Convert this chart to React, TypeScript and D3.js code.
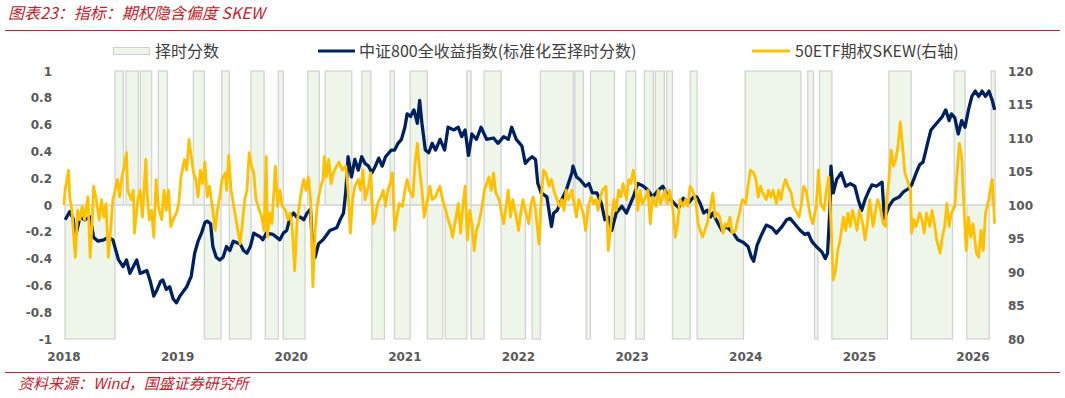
import React from 'react';
import * as d3 from 'd3';

const W = 1065;
const H = 398;

const yearTicks = [2018, 2019, 2020, 2021, 2022, 2023, 2024, 2025, 2026];
const leftTicks = [-1, -0.8, -0.6, -0.4, -0.2, 0, 0.2, 0.4, 0.6, 0.8, 1];
const rightTicks = [80, 85, 90, 95, 100, 105, 110, 115, 120];

const titleText = '图表23：指标：期权隐含偏度 SKEW';
const sourceText = '资料来源：Wind，国盛证券研究所';
const legendLabels = ['择时分数', '中证800全收益指数(标准化至择时分数)', '50ETF期权SKEW(右轴)'];

// timing score segments: [start (decimal year), end, score]
const timingSegments: [number, number, number][] = [
  [2018.009, 2018.449, -1], [2018.449, 2018.522, 1], [2018.546, 2018.654, 1], [2018.672, 2018.772, 1],
  [2018.830, 2018.909, 1], [2019.138, 2019.235, 1], [2019.235, 2019.382, -1], [2019.388, 2019.455, 1],
  [2019.455, 2019.646, -1], [2019.646, 2019.761, 1], [2019.772, 2019.886, -1], [2019.886, 2019.930, 1],
  [2019.930, 2020.121, -1], [2020.145, 2020.247, 1], [2020.298, 2020.533, 1], [2020.621, 2020.700, 1],
  [2020.709, 2020.820, -1], [2020.870, 2020.908, 1], [2020.908, 2021.046, -1], [2021.046, 2021.198, 1],
  [2021.198, 2021.334, -1], [2021.356, 2021.545, -1], [2021.545, 2021.583, 1], [2021.583, 2021.697, -1],
  [2021.697, 2021.847, 1], [2021.847, 2022.061, -1], [2022.120, 2022.193, -1], [2022.193, 2022.483, 1],
  [2022.498, 2022.571, 1], [2022.595, 2022.633, -1], [2022.633, 2022.844, 1], [2022.844, 2022.938, -1],
  [2022.947, 2023.032, 1], [2023.032, 2023.108, -1], [2023.108, 2023.187, 1], [2023.205, 2023.284, 1],
  [2023.305, 2023.355, 1], [2023.355, 2023.511, -1], [2023.511, 2023.572, 1], [2023.572, 2023.980, -1],
  [2023.995, 2024.485, 1], [2024.546, 2024.596, 1], [2024.605, 2024.635, -1], [2024.649, 2024.758, 1],
  [2024.758, 2025.247, -1], [2025.259, 2025.456, 1], [2025.456, 2025.820, -1], [2025.835, 2025.931, 1],
  [2025.946, 2026.143, -1], [2026.160, 2026.195, 1],
];

// CSI 800 total return index, standardised to timing score: [decimal year, value]
const csi800Norm: [number, number][] = [
  [2018.01, -0.11], [2018.05, -0.05], [2018.08, -0.10], [2018.10, -0.24], [2018.14, -0.09], [2018.18, -0.11],
  [2018.23, -0.09], [2018.26, -0.24], [2018.30, -0.27], [2018.35, -0.26], [2018.39, -0.24], [2018.43, -0.26],
  [2018.48, -0.41], [2018.52, -0.46], [2018.55, -0.41], [2018.58, -0.51], [2018.64, -0.41], [2018.67, -0.51],
  [2018.73, -0.49], [2018.76, -0.57], [2018.79, -0.68], [2018.82, -0.63], [2018.85, -0.57], [2018.87, -0.56],
  [2018.90, -0.63], [2018.93, -0.61], [2018.96, -0.70], [2018.99, -0.73], [2019.02, -0.68], [2019.08, -0.61],
  [2019.12, -0.53], [2019.15, -0.36], [2019.18, -0.27], [2019.21, -0.21], [2019.24, -0.13], [2019.26, -0.12],
  [2019.29, -0.14], [2019.31, -0.31], [2019.34, -0.39], [2019.37, -0.41], [2019.40, -0.39], [2019.43, -0.31],
  [2019.46, -0.34], [2019.49, -0.27], [2019.55, -0.29], [2019.58, -0.34], [2019.61, -0.36], [2019.64, -0.31],
  [2019.67, -0.21], [2019.73, -0.24], [2019.75, -0.26], [2019.78, -0.21], [2019.84, -0.22], [2019.90, -0.26],
  [2019.93, -0.21], [2019.96, -0.19], [2019.99, -0.09], [2020.02, -0.06], [2020.05, -0.09], [2020.08, -0.09],
  [2020.11, -0.11], [2020.14, -0.06], [2020.17, -0.03], [2020.18, -0.21], [2020.21, -0.39], [2020.24, -0.29],
  [2020.28, -0.26], [2020.34, -0.19], [2020.40, -0.17], [2020.43, -0.11], [2020.46, -0.06], [2020.48, 0.10],
  [2020.50, 0.36], [2020.53, 0.21], [2020.56, 0.34], [2020.59, 0.26], [2020.62, 0.36], [2020.65, 0.31],
  [2020.68, 0.29], [2020.71, 0.24], [2020.74, 0.29], [2020.77, 0.35], [2020.80, 0.29], [2020.83, 0.36],
  [2020.86, 0.39], [2020.88, 0.41], [2020.91, 0.41], [2020.94, 0.46], [2020.97, 0.49], [2021.00, 0.58],
  [2021.02, 0.68], [2021.05, 0.66], [2021.08, 0.71], [2021.11, 0.61], [2021.13, 0.78], [2021.15, 0.61],
  [2021.18, 0.41], [2021.21, 0.39], [2021.24, 0.46], [2021.27, 0.41], [2021.31, 0.49], [2021.35, 0.41],
  [2021.38, 0.58], [2021.43, 0.56], [2021.47, 0.58], [2021.50, 0.51], [2021.53, 0.56], [2021.56, 0.37],
  [2021.59, 0.53], [2021.63, 0.49], [2021.67, 0.58], [2021.72, 0.49], [2021.78, 0.50], [2021.82, 0.46],
  [2021.87, 0.51], [2021.91, 0.49], [2021.94, 0.58], [2021.98, 0.49], [2022.03, 0.44], [2022.06, 0.31],
  [2022.09, 0.34], [2022.12, 0.36], [2022.15, 0.34], [2022.17, 0.16], [2022.20, 0.09], [2022.25, 0.06],
  [2022.29, -0.16], [2022.31, -0.06], [2022.34, -0.04], [2022.38, 0.04], [2022.42, 0.11], [2022.47, 0.24],
  [2022.48, 0.29], [2022.51, 0.21], [2022.54, 0.19], [2022.59, 0.14], [2022.62, 0.16], [2022.65, 0.09],
  [2022.69, 0.09], [2022.73, 0.01], [2022.76, -0.11], [2022.79, -0.09], [2022.82, -0.19], [2022.86, -0.06],
  [2022.91, -0.01], [2022.95, -0.06], [2023.01, 0.06], [2023.05, 0.16], [2023.10, 0.14], [2023.14, 0.11],
  [2023.18, 0.06], [2023.23, 0.11], [2023.27, 0.14], [2023.32, 0.06], [2023.36, 0.02], [2023.41, -0.02],
  [2023.45, 0.05], [2023.50, 0.02], [2023.54, 0.06], [2023.57, 0.06], [2023.60, 0.01], [2023.63, -0.06],
  [2023.66, -0.04], [2023.69, -0.09], [2023.71, -0.06], [2023.74, -0.11], [2023.79, -0.19], [2023.83, -0.16],
  [2023.89, -0.21], [2023.93, -0.26], [2023.98, -0.28], [2024.02, -0.31], [2024.05, -0.39], [2024.07, -0.42],
  [2024.10, -0.30], [2024.14, -0.22], [2024.18, -0.15], [2024.23, -0.17], [2024.27, -0.21], [2024.32, -0.16],
  [2024.36, -0.11], [2024.39, -0.10], [2024.43, -0.14], [2024.48, -0.19], [2024.52, -0.22], [2024.55, -0.21],
  [2024.58, -0.27], [2024.62, -0.31], [2024.67, -0.35], [2024.70, -0.40], [2024.72, -0.36], [2024.74, -0.04],
  [2024.75, 0.29], [2024.77, 0.09], [2024.80, 0.19], [2024.84, 0.24], [2024.88, 0.14], [2024.92, 0.16],
  [2024.96, 0.14], [2024.99, 0.04], [2025.02, -0.04], [2025.05, 0.04], [2025.08, 0.10], [2025.11, 0.15],
  [2025.15, 0.14], [2025.20, 0.17], [2025.22, -0.10], [2025.26, -0.01], [2025.30, 0.04], [2025.35, 0.06],
  [2025.39, 0.10], [2025.43, 0.12], [2025.46, 0.15], [2025.50, 0.24], [2025.53, 0.30], [2025.56, 0.32],
  [2025.60, 0.46], [2025.63, 0.56], [2025.68, 0.61], [2025.73, 0.66], [2025.76, 0.71], [2025.79, 0.63],
  [2025.81, 0.68], [2025.84, 0.65], [2025.87, 0.53], [2025.90, 0.63], [2025.93, 0.58], [2025.96, 0.71],
  [2025.99, 0.81], [2026.02, 0.85], [2026.05, 0.81], [2026.08, 0.85], [2026.11, 0.81], [2026.14, 0.85],
  [2026.17, 0.78], [2026.19, 0.71],
];

// 50ETF option SKEW (right axis): [decimal year, value]
const skew50etf: [number, number][] = [
  [2018.00, 100.0], [2018.01, 102.2], [2018.04, 105.2], [2018.05, 101.2], [2018.07, 99.2], [2018.09, 94.2],
  [2018.10, 92.2], [2018.12, 99.2], [2018.14, 97.8], [2018.16, 99.8], [2018.18, 97.8], [2018.21, 101.2],
  [2018.23, 92.2], [2018.25, 98.2], [2018.26, 102.8], [2018.28, 101.2], [2018.31, 97.8], [2018.33, 100.8],
  [2018.35, 98.2], [2018.37, 100.2], [2018.39, 92.2], [2018.41, 96.2], [2018.43, 100.8], [2018.45, 102.2],
  [2018.47, 103.8], [2018.49, 101.2], [2018.51, 104.2], [2018.53, 105.8], [2018.55, 107.8], [2018.56, 102.2],
  [2018.59, 100.8], [2018.61, 102.2], [2018.62, 95.8], [2018.65, 100.8], [2018.67, 102.2], [2018.69, 98.2],
  [2018.72, 106.8], [2018.73, 102.2], [2018.75, 97.8], [2018.77, 99.2], [2018.79, 95.2], [2018.81, 103.8],
  [2018.83, 99.8], [2018.86, 97.8], [2018.88, 102.2], [2018.90, 99.2], [2018.92, 102.2], [2018.94, 96.8],
  [2018.97, 98.2], [2018.99, 98.8], [2019.01, 100.2], [2019.03, 104.2], [2019.06, 106.8], [2019.08, 105.2],
  [2019.10, 109.8], [2019.12, 107.2], [2019.14, 104.8], [2019.16, 103.8], [2019.18, 101.2], [2019.20, 105.2],
  [2019.22, 103.2], [2019.24, 106.4], [2019.26, 101.2], [2019.28, 102.8], [2019.31, 99.2], [2019.33, 96.2],
  [2019.35, 99.2], [2019.37, 101.2], [2019.39, 103.8], [2019.42, 104.8], [2019.43, 102.2], [2019.45, 107.4],
  [2019.47, 102.2], [2019.49, 100.2], [2019.51, 98.2], [2019.53, 96.2], [2019.55, 94.2], [2019.57, 97.2],
  [2019.59, 100.8], [2019.61, 102.2], [2019.63, 107.8], [2019.65, 105.8], [2019.67, 104.8], [2019.69, 100.8],
  [2019.72, 99.2], [2019.74, 98.2], [2019.76, 96.2], [2019.78, 107.2], [2019.79, 95.2], [2019.81, 98.8],
  [2019.83, 97.2], [2019.86, 105.8], [2019.88, 99.8], [2019.90, 102.2], [2019.92, 99.8], [2019.95, 99.2],
  [2019.97, 97.8], [2019.99, 98.8], [2020.01, 96.2], [2020.03, 90.2], [2020.05, 97.2], [2020.07, 99.8],
  [2020.09, 102.2], [2020.11, 103.8], [2020.13, 102.2], [2020.15, 104.2], [2020.17, 100.8], [2020.19, 87.8],
  [2020.21, 96.2], [2020.23, 100.2], [2020.26, 102.8], [2020.28, 103.8], [2020.29, 107.2], [2020.31, 104.2],
  [2020.33, 106.8], [2020.35, 103.2], [2020.37, 104.8], [2020.40, 105.8], [2020.42, 106.4], [2020.45, 105.2],
  [2020.48, 105.8], [2020.50, 102.2], [2020.52, 95.8], [2020.54, 100.8], [2020.56, 102.8], [2020.59, 103.8],
  [2020.61, 102.2], [2020.63, 105.2], [2020.65, 100.8], [2020.68, 102.8], [2020.70, 104.8], [2020.72, 97.2],
  [2020.74, 98.2], [2020.76, 100.2], [2020.79, 101.2], [2020.81, 102.2], [2020.83, 99.8], [2020.85, 102.2],
  [2020.87, 103.2], [2020.89, 104.8], [2020.91, 96.2], [2020.93, 98.2], [2020.95, 100.2], [2020.98, 99.8],
  [2021.00, 102.2], [2021.02, 103.8], [2021.04, 102.2], [2021.07, 101.2], [2021.09, 106.2], [2021.11, 109.2],
  [2021.13, 105.2], [2021.15, 102.2], [2021.17, 98.2], [2021.20, 100.8], [2021.22, 102.8], [2021.24, 100.8],
  [2021.27, 101.2], [2021.29, 102.2], [2021.31, 102.8], [2021.33, 100.8], [2021.36, 99.2], [2021.38, 97.8],
  [2021.40, 96.8], [2021.42, 95.2], [2021.44, 97.2], [2021.47, 100.2], [2021.49, 95.8], [2021.51, 99.8],
  [2021.53, 102.8], [2021.55, 94.8], [2021.57, 99.2], [2021.59, 97.2], [2021.61, 93.2], [2021.63, 96.2],
  [2021.65, 97.2], [2021.68, 99.8], [2021.70, 102.2], [2021.72, 103.2], [2021.74, 104.2], [2021.76, 102.2],
  [2021.78, 104.8], [2021.80, 101.8], [2021.83, 100.8], [2021.85, 98.8], [2021.87, 97.2], [2021.89, 99.8],
  [2021.91, 102.2], [2021.93, 98.2], [2021.95, 100.8], [2021.98, 98.2], [2022.00, 96.2], [2022.02, 98.8],
  [2022.04, 100.8], [2022.06, 99.2], [2022.09, 97.2], [2022.11, 100.2], [2022.13, 101.2], [2022.15, 99.2],
  [2022.18, 94.2], [2022.20, 100.8], [2022.22, 105.2], [2022.24, 104.8], [2022.27, 102.8], [2022.29, 103.8],
  [2022.31, 102.2], [2022.33, 101.2], [2022.36, 99.8], [2022.38, 100.8], [2022.40, 99.2], [2022.42, 102.2],
  [2022.44, 100.8], [2022.47, 102.2], [2022.49, 100.2], [2022.51, 98.2], [2022.53, 100.8], [2022.55, 99.8],
  [2022.57, 98.8], [2022.59, 96.2], [2022.62, 100.2], [2022.64, 101.2], [2022.66, 100.2], [2022.68, 100.8],
  [2022.70, 99.2], [2022.72, 101.2], [2022.74, 102.2], [2022.77, 102.8], [2022.79, 93.2], [2022.82, 98.2],
  [2022.84, 100.8], [2022.86, 99.2], [2022.88, 102.2], [2022.90, 101.2], [2022.92, 103.2], [2022.95, 100.8],
  [2022.97, 103.8], [2022.99, 103.2], [2023.01, 105.2], [2023.03, 103.2], [2023.05, 99.2], [2023.07, 102.2],
  [2023.09, 100.2], [2023.12, 101.2], [2023.14, 102.2], [2023.16, 97.2], [2023.18, 101.2], [2023.21, 99.8],
  [2023.23, 102.2], [2023.25, 100.2], [2023.27, 101.2], [2023.29, 102.2], [2023.31, 100.2], [2023.33, 102.2],
  [2023.36, 99.2], [2023.38, 95.2], [2023.40, 97.2], [2023.42, 100.8], [2023.45, 99.8], [2023.47, 100.8],
  [2023.49, 99.8], [2023.51, 102.8], [2023.53, 102.2], [2023.56, 100.8], [2023.58, 97.2], [2023.60, 96.2],
  [2023.62, 95.2], [2023.64, 96.2], [2023.66, 97.2], [2023.69, 99.8], [2023.71, 101.8], [2023.73, 98.2],
  [2023.75, 98.8], [2023.77, 98.2], [2023.80, 95.8], [2023.82, 97.2], [2023.84, 96.8], [2023.86, 98.2],
  [2023.88, 95.8], [2023.91, 96.2], [2023.93, 97.8], [2023.95, 99.2], [2023.97, 100.8], [2024.00, 100.2],
  [2024.02, 102.8], [2024.04, 105.2], [2024.07, 104.8], [2024.09, 103.8], [2024.11, 101.2], [2024.13, 102.8],
  [2024.15, 101.8], [2024.18, 100.8], [2024.20, 102.2], [2024.22, 101.2], [2024.24, 102.2], [2024.27, 100.2],
  [2024.29, 102.2], [2024.31, 100.8], [2024.33, 102.8], [2024.35, 103.8], [2024.37, 102.8], [2024.40, 101.8],
  [2024.42, 99.8], [2024.44, 99.2], [2024.47, 98.2], [2024.49, 100.2], [2024.51, 102.8], [2024.53, 102.2],
  [2024.55, 100.2], [2024.57, 98.2], [2024.59, 97.2], [2024.62, 99.8], [2024.64, 105.2], [2024.66, 100.2],
  [2024.69, 99.2], [2024.71, 102.2], [2024.73, 104.2], [2024.75, 97.2], [2024.77, 88.8], [2024.79, 90.2],
  [2024.81, 93.2], [2024.83, 94.8], [2024.86, 98.2], [2024.88, 96.2], [2024.90, 98.8], [2024.92, 96.8],
  [2024.94, 99.2], [2024.96, 97.8], [2024.98, 96.2], [2025.00, 99.2], [2025.03, 97.2], [2025.05, 94.8],
  [2025.07, 97.2], [2025.09, 100.8], [2025.12, 96.8], [2025.14, 98.8], [2025.16, 100.8], [2025.18, 99.8],
  [2025.21, 97.2], [2025.23, 96.8], [2025.24, 100.8], [2025.26, 103.8], [2025.28, 108.2], [2025.30, 105.8],
  [2025.32, 106.8], [2025.34, 108.8], [2025.36, 112.4], [2025.38, 108.8], [2025.40, 104.8], [2025.42, 103.8],
  [2025.45, 102.2], [2025.46, 95.8], [2025.48, 97.8], [2025.50, 96.8], [2025.53, 98.8], [2025.55, 97.8],
  [2025.57, 95.8], [2025.59, 98.8], [2025.62, 96.8], [2025.64, 99.2], [2025.66, 97.2], [2025.68, 94.8],
  [2025.71, 92.8], [2025.73, 95.2], [2025.75, 96.8], [2025.77, 100.2], [2025.79, 96.8], [2025.81, 98.8],
  [2025.84, 99.8], [2025.86, 104.8], [2025.88, 109.2], [2025.90, 107.2], [2025.92, 99.8], [2025.94, 93.2],
  [2025.96, 98.2], [2025.98, 95.2], [2026.00, 97.2], [2026.03, 92.8], [2026.05, 92.2], [2026.07, 96.2],
  [2026.09, 93.2], [2026.11, 98.8], [2026.14, 100.8], [2026.16, 103.2], [2026.17, 103.8], [2026.19, 97.2],
];

const RED = '#C8202A';
const NAVY = '#002060';
const GOLD = '#FFC000';
const AXIS_TEXT = '#595959';
const CJK = '"Noto Sans CJK SC", "Noto Sans", sans-serif';
const NUM = '"DejaVu Sans", Verdana, sans-serif';

export default function App() {
  const x = d3.scaleLinear().domain([2018, 2026]).range([64, 973]);
  const yL = d3.scaleLinear().domain([-1, 1]).range([339, 71]);
  const yR = d3.scaleLinear().domain([80, 120]).range([339, 71]);

  const lineL = d3.line<[number, number]>().x((d) => x(d[0])).y((d) => yL(d[1]));
  const lineR = d3.line<[number, number]>().x((d) => x(d[0])).y((d) => yR(d[1]));

  const fmtL = (v: number) => String(Math.round(v * 10) / 10);

  return (
    <svg
      width={W}
      height={H}
      viewBox={`0 0 ${W} ${H}`}
      style={{ position: 'absolute', left: 0, top: 0, background: '#fff' }}
    >
      {/* title */}
      <text x={8} y={19} fill={RED} fontFamily={CJK} fontSize={16} fontStyle="italic">
        {titleText}
      </text>
      <line x1={5} x2={1060} y1={30.5} y2={30.5} stroke={RED} strokeWidth={1} />

      {/* legend */}
      <g fontFamily={CJK} fontSize={16} fill="#404040">
        <rect x={113.5} y={47.5} width={36} height={7} fill="#EEF6EA" stroke="#CFCFCF" strokeWidth={1} />
        <text x={155} y={56.5}>{legendLabels[0]}</text>
        <line x1={318} x2={355} y1={51} y2={51} stroke={NAVY} strokeWidth={3} />
        <text x={359} y={56.5}>{legendLabels[1]}</text>
        <line x1={752} x2={790} y1={51} y2={51} stroke={GOLD} strokeWidth={3} />
        <text x={795} y={56.5}>{legendLabels[2]}</text>
      </g>

      {/* timing score bars */}
      <g>
        {timingSegments.map(([s, e, v], i) => {
          const y0 = yL(0);
          const y1 = yL(v);
          return (
            <rect
              key={i}
              x={x(s)}
              y={Math.min(y0, y1)}
              width={x(e) - x(s)}
              height={Math.abs(y1 - y0)}
              fill="#EEF6EA"
              stroke="#D3D3D3"
              strokeWidth={1.3}
            />
          );
        })}
      </g>

      {/* zero line */}
      <line x1={64} x2={996} y1={yL(0)} y2={yL(0)} stroke="#D9D9D9" strokeWidth={1.5} />

      {/* series */}
      <path d={lineL(csi800Norm) || ''} fill="none" stroke={NAVY} strokeWidth={3.3} strokeLinejoin="round" />
      <path d={lineR(skew50etf) || ''} fill="none" stroke={GOLD} strokeWidth={2.8} strokeLinejoin="round" />

      {/* left axis */}
      <g fontFamily={NUM} fontSize={12} fontWeight="bold" fill={AXIS_TEXT} textAnchor="end">
        {leftTicks.map((t) => (
          <text key={t} x={52} y={yL(t) + 4.5}>
            {fmtL(t)}
          </text>
        ))}
      </g>

      {/* right axis */}
      <g fontFamily={NUM} fontSize={12} fontWeight="bold" fill={AXIS_TEXT} textAnchor="start">
        {rightTicks.map((t) => (
          <text key={t} x={1008} y={yR(t) + 4.5}>
            {t}
          </text>
        ))}
      </g>

      {/* x axis */}
      <g fontFamily={NUM} fontSize={12} fontWeight="bold" fill={AXIS_TEXT} textAnchor="middle">
        {yearTicks.map((t) => (
          <text key={t} x={x(t)} y={361}>
            {t}
          </text>
        ))}
      </g>

      {/* source */}
      <line x1={5} x2={1060} y1={372.5} y2={372.5} stroke={RED} strokeWidth={1} />
      <text x={18} y={389} fill={RED} fontFamily={CJK} fontSize={15} fontStyle="italic">
        {sourceText}
      </text>
    </svg>
  );
}
